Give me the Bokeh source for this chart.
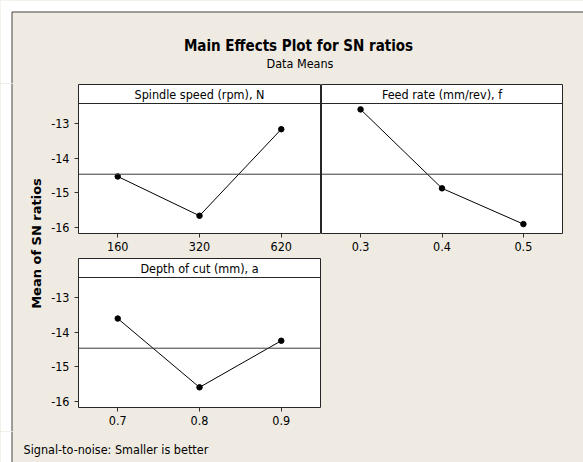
import math
from bokeh.plotting import figure
from bokeh.layouts import column, row
from bokeh.models import Range1d, FixedTicker, Span, Label, ColumnDataSource
from bokeh.embed import file_html
from bokeh.resources import INLINE

# ---------------- data ----------------
title_text = "Main Effects Plot for SN ratios"
subtitle_text = "Data Means"
ylabel_text = "Mean of SN ratios"
footer_text = "Signal-to-noise: Smaller is better"

factor_names = ["Spindle speed (rpm), N", "Feed rate (mm/rev), f", "Depth of cut (mm), a"]
spindle_levels = ["160", "320", "620"]
spindle_sn = [-14.53, -15.66, -13.17]
feed_levels = ["0.3", "0.4", "0.5"]
feed_sn = [-12.60, -14.87, -15.90]
depth_levels = ["0.7", "0.8", "0.9"]
depth_sn = [-13.61, -15.59, -14.25]
y_ticks = [-16, -15, -14, -13]
y_tick_labels = ["-16", "-15", "-14", "-13"]

grand_mean = sum(spindle_sn + feed_sn + depth_sn) / 9.0

# ---------------- style ----------------
BG = "#EFEBE2"
FRAME = "#262626"
BORDER = "#4a4a4a"
FONT = "DejaVu Sans Condensed"
Y_LO, Y_HI = -16.17, -12.43
HDR_PX, PLOT_PX = 19, 130


def panel(name, levels, values, width, left, right, show_y):
    unit = (Y_HI - Y_LO) / PLOT_PX
    y_top = Y_HI + HDR_PX * unit
    p = figure(width=width, height=174, x_range=Range1d(0.52, 3.48),
               y_range=Range1d(Y_LO, y_top), toolbar_location=None,
               output_backend="svg", min_border_left=left, min_border_right=right,
               min_border_top=1, min_border_bottom=24,
               background_fill_color="white", border_fill_color=BG,
               outline_line_color=FRAME, outline_line_width=1)
    p.title.visible = False
    p.xgrid.visible = False
    p.ygrid.visible = False
    xs = list(range(1, len(levels) + 1))
    src = ColumnDataSource(dict(x=xs, y=values))
    p.add_layout(Span(location=grand_mean, dimension="width", line_color="#3a3a3a", line_width=1))
    p.add_layout(Span(location=Y_HI, dimension="width", line_color=FRAME, line_width=1))
    p.line("x", "y", source=src, line_color="black", line_width=1)
    p.scatter("x", "y", source=src, size=5.5, color="black")
    p.add_layout(Label(x=2, y=(Y_HI + y_top) / 2, text=name, text_align="center",
                       text_baseline="middle", text_font=FONT, text_font_size="12.5px",
                       text_color="black"))
    ax = p.xaxis[0]
    ax.ticker = FixedTicker(ticks=xs)
    ax.major_label_overrides = {float(x): lv for x, lv in zip(xs, levels)}
    ax.axis_line_color = None
    ax.major_tick_out = 4
    ax.major_tick_in = 0
    ax.minor_tick_line_color = None
    ax.major_tick_line_color = "#333333"
    ax.major_label_standoff = 4
    ax.major_label_text_font = FONT
    ax.major_label_text_font_size = "12.5px"
    ax.major_label_text_color = "black"
    ay = p.yaxis[0]
    if show_y:
        ay.ticker = FixedTicker(ticks=y_ticks)
        ay.major_label_overrides = {float(t): s for t, s in zip(y_ticks, y_tick_labels)}
        ay.axis_line_color = None
        ay.major_tick_out = 4
        ay.major_tick_in = 0
        ay.minor_tick_line_color = None
        ay.major_tick_line_color = "#333333"
        ay.major_label_standoff = 5
        ay.major_label_text_font = FONT
        ay.major_label_text_font_size = "12.5px"
        ay.major_label_text_color = "black"
    else:
        ay.visible = False
    return p


def canvas(w, h):
    c = figure(width=w, height=h, x_range=Range1d(0, w), y_range=Range1d(h, 0),
               toolbar_location=None, output_backend="svg", min_border=0,
               x_axis_location=None, y_axis_location=None,
               background_fill_color=BG, border_fill_color=BG, outline_line_color=None)
    c.title.visible = False
    c.grid.visible = False
    return c


W = 583
# header area (page y 0..83)
head = canvas(W, 83)
head.quad(left=[0, 0], right=[11, W], top=[0, 0], bottom=[83, 11], fill_color="white", line_color=None)
head.segment(x0=[11.5, 11.5], y0=[11.5, 11.5], x1=[11.5, W], y1=[83, 11.5], line_color=BORDER, line_width=1)
head.add_layout(Label(x=298, y=45, text=title_text, text_align="center", text_baseline="middle",
                      text_font=FONT, text_font_size="15px", text_font_style="bold", text_color="black"))
head.add_layout(Label(x=299.5, y=63, text=subtitle_text, text_align="center", text_baseline="middle",
                      text_font=FONT, text_font_size="12.5px", text_color="black"))

# left strip with y label (page x 0..46, y 83..431)
strip = canvas(46, 348)
strip.quad(left=[0], right=[11], top=[0], bottom=[348], fill_color="white", line_color=None)
strip.segment(x0=[11.5], y0=[0], x1=[11.5], y1=[348], line_color=BORDER, line_width=1)
strip.add_layout(Label(x=36, y=160, text=ylabel_text, angle=math.pi / 2, text_align="center",
                       text_baseline="middle", text_font="DejaVu Sans", text_font_size="13px",
                       text_font_style="bold", text_color="black"))

# footer (page y 431..462)
foot = canvas(W, 31)
foot.quad(left=[0], right=[11], top=[0], bottom=[31], fill_color="white", line_color=None)
foot.segment(x0=[11.5], y0=[0], x1=[11.5], y1=[31], line_color=BORDER, line_width=1)
foot.add_layout(Label(x=23, y=18, text=footer_text, text_align="left", text_baseline="middle",
                      text_font=FONT, text_font_size="12.5px", text_color="black"))

pA = panel(factor_names[0], spindle_levels, spindle_sn, 275, 32, 1, True)
pB = panel(factor_names[1], feed_levels, feed_sn, 262, 0, 21, False)
pC = panel(factor_names[2], depth_levels, depth_sn, 275, 32, 1, True)
filler = canvas(262, 174)
filler.quad(left=[0], right=[1], top=[0], bottom=[1], fill_color=BG, line_color=None)

bgs = {"background-color": BG}
row1 = row(pA, pB, styles=bgs)
row2 = row(pC, filler, styles=bgs)
grid = column(row1, row2, styles=bgs)
middle = row(strip, grid, styles=bgs)
layout = column(head, middle, foot, styles=bgs)

open("out.html", "w").write(file_html(layout, INLINE))
